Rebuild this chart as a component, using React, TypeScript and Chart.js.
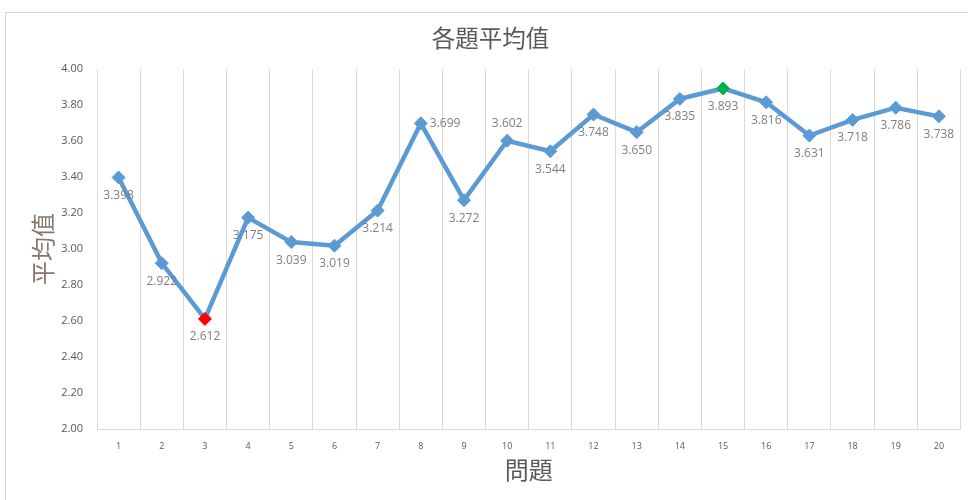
import React, { useEffect, useRef } from "react";
import { Chart, registerables } from "chart.js";

Chart.register(...registerables);

const categories = ["1","2","3","4","5","6","7","8","9","10","11","12","13","14","15","16","17","18","19","20"];
const averages = [3.398, 2.922, 2.612, 3.175, 3.039, 3.019, 3.214, 3.699, 3.272, 3.602, 3.544, 3.748, 3.650, 3.835, 3.893, 3.816, 3.631, 3.718, 3.786, 3.738];
const labelPlacement = ["below","below","below","below","below","below","below","right","below","above","below","below","below","below","below","below","below","below","below","below"];
const chartTitle = "各題平均值";
const yTitle = "平均值";
const xTitle = "問題";

const LINE = "#5b9bd5";
const pointColors = averages.map((v) => {
  const mn = Math.min(...averages);
  const mx = Math.max(...averages);
  if (v === mn) return "#ff0000";
  if (v === mx) return "#00b050";
  return LINE;
});

const CJK = '"Noto Sans CJK TC", "Noto Sans CJK SC", sans-serif';
const LAT = '"Open Sans", "Noto Sans", sans-serif';

const borderPlugin = {
  id: "frameBorder",
  beforeDraw(chart: any) {
    const ctx = chart.ctx;
    ctx.save();
    ctx.fillStyle = "#ffffff";
    ctx.fillRect(0, 0, chart.width, chart.height);
    ctx.strokeStyle = "#d9d9d9";
    ctx.lineWidth = 1;
    ctx.strokeRect(5.5, 12.5, chart.width + 20, chart.height + 20);
    ctx.restore();
  },
};

const dataLabelPlugin = {
  id: "dataLabels",
  afterDatasetsDraw(chart: any) {
    const ctx = chart.ctx;
    const meta = chart.getDatasetMeta(0);
    ctx.save();
    ctx.font = `12px ${LAT}`;
    ctx.fillStyle = "#7f7f7f";
    meta.data.forEach((pt: any, i: number) => {
      const txt = averages[i].toFixed(3);
      const pos = labelPlacement[i];
      let x = pt.x;
      let y = pt.y;
      ctx.textBaseline = "middle";
      if (pos === "below") {
        ctx.textAlign = "center";
        y += 18;
      } else if (pos === "above") {
        ctx.textAlign = "center";
        y -= 17;
      } else {
        ctx.textAlign = "left";
        x += 9;
      }
      ctx.fillText(txt, x, y);
    });
    ctx.restore();
  },
};

export default function App() {
  const ref = useRef<HTMLCanvasElement | null>(null);
  useEffect(() => {
    if (!ref.current) return;
    const chart = new Chart(ref.current, {
      type: "line",
      data: {
        labels: categories,
        datasets: [
          {
            data: averages,
            borderColor: LINE,
            borderWidth: 4.5,
            pointStyle: "rectRot",
            pointRadius: 6.5,
            pointHoverRadius: 6.5,
            pointBackgroundColor: pointColors,
            pointBorderColor: pointColors,
            pointBorderWidth: 1,
            tension: 0,
            fill: false,
          },
        ],
      },
      options: {
        animation: false,
        responsive: false,
        maintainAspectRatio: false,
        events: [],
        layout: { padding: { left: 18, right: 5, top: 0, bottom: 0 } },
        plugins: {
          legend: { display: false },
          tooltip: { enabled: false },
          title: {
            display: true,
            text: chartTitle,
            color: "#595959",
            font: { family: CJK, size: 23.5, weight: "normal" },
            padding: { top: 24, bottom: 17 },
          },
        },
        scales: {
          x: {
            offset: true,
            grid: { display: true, offset: true, color: "#d9d9d9", drawTicks: false },
            border: { display: true, color: "#d9d9d9" },
            ticks: { color: "#595959", font: { family: LAT, size: 9 }, padding: 12, maxRotation: 0, autoSkip: false },
            title: {
              display: true,
              text: xTitle,
              color: "#595959",
              font: { family: CJK, size: 24, weight: "normal" },
              padding: { top: 0, bottom: 16 },
            },
            afterFit(scale: any) {
              scale.height = 71;
            },
          },
          y: {
            min: 2,
            max: 4,
            grid: { display: false, drawTicks: false },
            border: { display: false },
            ticks: {
              stepSize: 0.2,
              color: "#595959",
              font: { family: LAT, size: 11 },
              padding: 14,
              callback: (v: any) => Number(v).toFixed(2),
            },
            title: {
              display: true,
              text: yTitle,
              color: "#85776e",
              font: { family: CJK, size: 24, weight: "normal" },
              padding: { top: 10, bottom: 0 },
            },
            afterFit(scale: any) {
              scale.width = 79;
            },
          },
        },
      },
      plugins: [borderPlugin, dataLabelPlugin],
    });
    return () => chart.destroy();
  }, []);
  return (
    <div style={{ position: "fixed", left: 0, top: 0, width: 968, height: 500 }}>
      <canvas ref={ref} width={968} height={500} style={{ width: 968, height: 500, display: "block" }} />
    </div>
  );
}
